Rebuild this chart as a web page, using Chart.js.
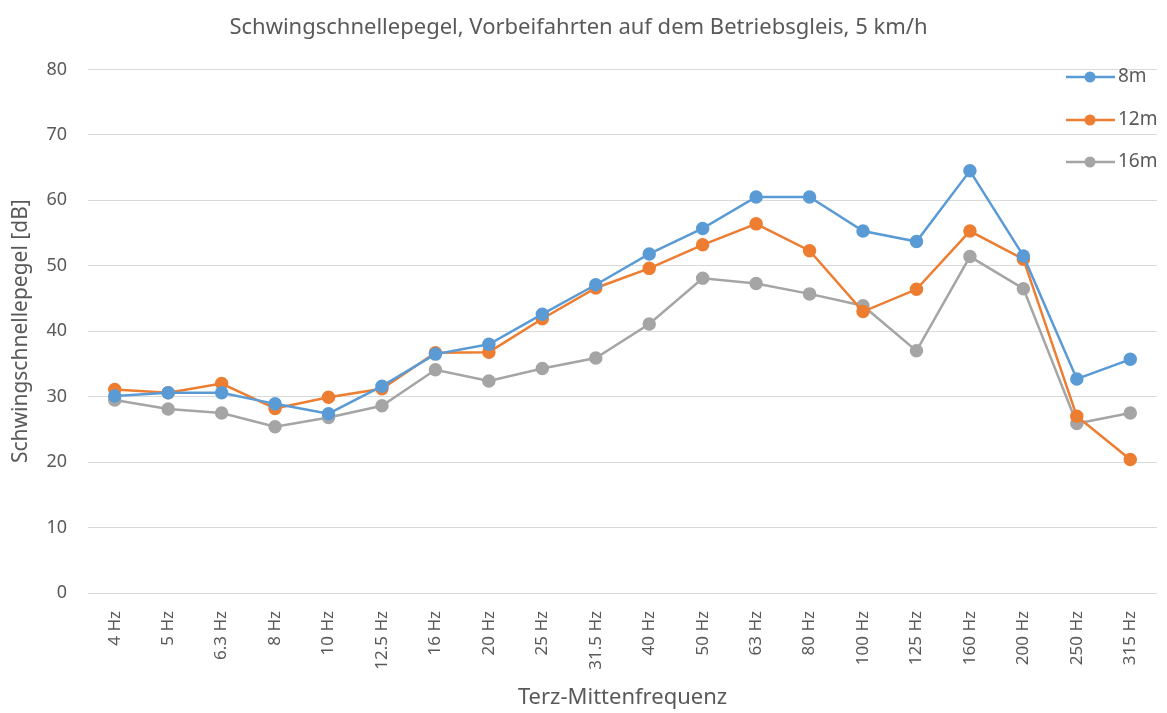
<!DOCTYPE html>
<html>
<head>
<meta charset="utf-8">
<script src="https://cdn.jsdelivr.net/npm/chart.js@4.4.1/dist/chart.umd.min.js"></script>
<style>
  body { margin: 0; background: #fff; }
  #wrap { width: 1167px; height: 713px; }
</style>
</head>
<body>
<div id="wrap"><canvas id="myChart" width="1167" height="713"></canvas></div>
<script>
const frequencies = ['4 Hz', '5 Hz', '6.3 Hz', '8 Hz', '10 Hz', '12.5 Hz', '16 Hz', '20 Hz', '25 Hz', '31.5 Hz',
    '40 Hz', '50 Hz', '63 Hz', '80 Hz', '100 Hz', '125 Hz', '160 Hz', '200 Hz', '250 Hz', '315 Hz'];
const level8m = [30.1, 30.6, 30.6, 28.9, 27.4, 31.6, 36.5, 38.0, 42.6, 47.1,
    51.8, 55.7, 60.5, 60.5, 55.3, 53.7, 64.5, 51.5, 32.7, 35.7];
const level12m = [31.1, 30.6, 32.0, 28.2, 29.9, 31.2, 36.7, 36.8, 41.9, 46.6,
    49.6, 53.2, 56.4, 52.3, 43.0, 46.4, 55.3, 51.0, 27.0, 20.4];
const level16m = [29.5, 28.1, 27.5, 25.4, 26.8, 28.6, 34.1, 32.4, 34.3, 35.9,
    41.1, 48.1, 47.3, 45.7, 43.9, 37.0, 51.4, 46.5, 25.9, 27.5];
const yTicks = [0, 10, 20, 30, 40, 50, 60, 70, 80];

const textColor = '#595959'
const fontFamily = '"Noto Sans", "Open Sans", sans-serif'

function series(label, data, color) {
    return {
        label: label,
        data: data,
        borderColor: color,
        backgroundColor: color,
        borderWidth: 2.5,
        pointRadius: 5.5,
        pointHoverRadius: 5.5,
        tension: 0
    }
}

// legend drawn inside the plot, top right, like the Excel original
const insideLegend = {
    id: 'insideLegend',
    afterDraw(chart) {
        const ctx = chart.ctx
        const rows = [77, 120, 162]
        ctx.save()
        chart.data.datasets.forEach((ds, i) => {
            const y = rows[i]
            ctx.strokeStyle = ds.borderColor
            ctx.lineWidth = 2.5
            ctx.beginPath()
            ctx.moveTo(1066, y)
            ctx.lineTo(1115, y)
            ctx.stroke()
            ctx.fillStyle = ds.borderColor
            ctx.beginPath()
            ctx.arc(1090, y, 5.5, 0, Math.PI * 2)
            ctx.fill()
            ctx.fillStyle = textColor
            ctx.font = '19px ' + fontFamily
            ctx.textBaseline = 'middle'
            ctx.textAlign = 'left'
            ctx.fillText(ds.label, 1118, y)
        })
        ctx.restore()
    }
}

new Chart(document.getElementById('myChart'), {
    type: 'line',
    data: {
        labels: frequencies,
        datasets: [
            series('8m', level8m, '#5B9BD5'),
            series('12m', level12m, '#ED7D31'),
            series('16m', level16m, '#A5A5A5')
        ]
    },
    options: {
        responsive: false,
        animation: false,
        layout: { padding: { left: 0, right: 10, top: 0, bottom: 0 } },
        plugins: {
            legend: { display: false },
            tooltip: { enabled: false },
            title: {
                display: true,
                text: 'Schwingschnellepegel, Vorbeifahrten auf dem Betriebsgleis, 5 km/h',
                color: textColor,
                font: { family: fontFamily, size: 22, weight: 'normal' },
                padding: { top: 15, bottom: 28 }
            }
        },
        scales: {
            x: {
                offset: true,
                grid: { display: false },
                border: { display: false },
                ticks: {
                    color: textColor,
                    font: { family: fontFamily, size: 17 },
                    minRotation: 90,
                    maxRotation: 90,
                    padding: 10
                },
                title: {
                    display: true,
                    text: 'Terz-Mittenfrequenz',
                    color: textColor,
                    font: { family: fontFamily, size: 22 },
                    padding: { top: 2, bottom: 2 }
                },
                afterFit: (scale) => { scale.height = 120 }
            },
            y: {
                min: 0,
                max: 80,
                afterBuildTicks: (scale) => { scale.ticks = yTicks.map(v => ({ value: v })) },
                grid: { color: '#D9D9D9', lineWidth: 1, drawTicks: false },
                border: { display: false },
                ticks: {
                    color: textColor,
                    font: { family: fontFamily, size: 18 },
                    padding: 21
                },
                title: {
                    display: true,
                    text: 'Schwingschnellepegel [dB]',
                    color: textColor,
                    font: { family: fontFamily, size: 21 },
                    padding: { top: 8, bottom: 4 }
                },
                afterFit: (scale) => { scale.width = 88 }
            }
        }
    },
    plugins: [insideLegend]
})
</script>
</body>
</html>
